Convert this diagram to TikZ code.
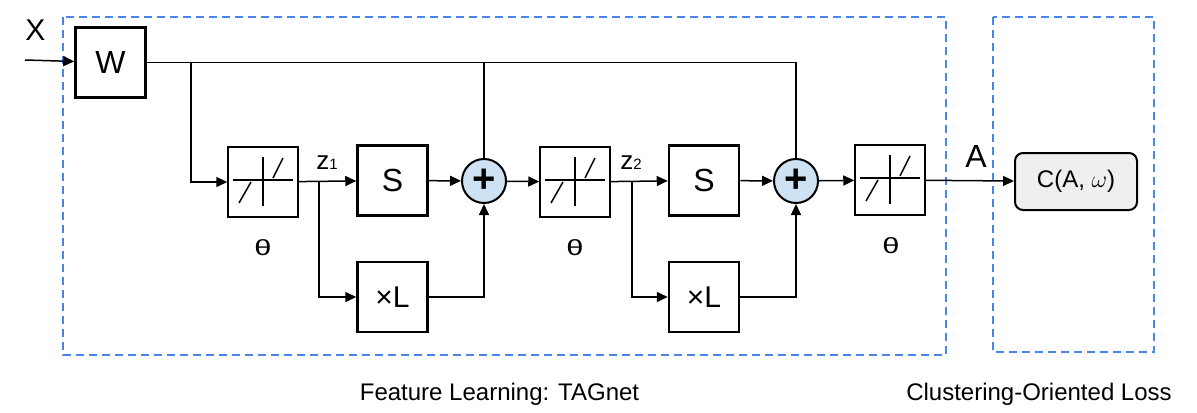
\documentclass[tikz,border=0pt]{standalone}
\usepackage{fontspec}
\setmainfont{Liberation Sans}
\usetikzlibrary{arrows.meta}
\definecolor{frameblue}{HTML}{4A86E8}
\definecolor{sumblue}{HTML}{CFE2F3}
\definecolor{lossgray}{HTML}{EFEFEF}
\newcommand{\fsz}[1]{\fontsize{#1}{#1}\selectfont}
\newcommand{\zsub}[1]{{\fsz{13}z\fsz{7.5}#1}}
\newcommand{\thsym}{\scalebox{1.4}[1]{θ}}
\tikzset{
  blk/.style={draw, line width=1.25pt, minimum size=35pt, inner sep=0pt, font=\fsz{16}},
  act/.style={draw, line width=0.75pt, minimum size=35pt, inner sep=0pt,
    path picture={
      \path (path picture bounding box.center) coordinate (m);
      \draw [line width=0.75pt] ([shift={(-15pt,1pt)}]m) -- ([shift={(15pt,1pt)}]m);
      \draw [line width=0.75pt] ([shift={(0pt,12.5pt)}]m) -- ([shift={(0pt,-12pt)}]m);
      \draw [line width=0.75pt] ([shift={(-12pt,-10.5pt)}]m) -- ([shift={(-6pt,0pt)}]m);
      \draw [line width=0.75pt] ([shift={(5pt,2pt)}]m) -- ([shift={(10pt,12pt)}]m);
    }},
  sum/.style={circle, draw, line width=1pt, fill=sumblue, minimum size=22pt,
    inner sep=0pt, font=\fsz{20}\bfseries},
  loss/.style={draw, line width=1pt, rounded corners=4pt, fill=lossgray,
    minimum width=61pt, minimum height=28.5pt, font=\fsz{12}},
  frame/.style={draw=frameblue, line width=0.9pt, dash pattern=on 4pt off 2.5pt},
  wire/.style={line width=0.75pt},
  >={Triangle[length=5.5pt,width=5pt]}
}

\begin{document}
\begin{tikzpicture}[x=0.5pt, y=-0.5pt]
    \useasboundingbox (0,0) rectangle (1197,412);
    \draw [frame] (63,17) rectangle (946,355);
    \draw [frame] (993,17) rectangle (1154,352);
    \node (w) at (110.5,62.5) [blk] {W};
    \node (t1) at (263,182) [act] {};
    \node (s1) at (392.5,180.5) [blk] {S};
    \node (l1) at (392.5,297) [blk, font=\fsz{15}] {\texttimes L};
    \node (p1) at (484,181) [sum] {+};
    \node (t2) at (575,182) [act] {};
    \node (s2) at (704,180.5) [blk] {S};
    \node (l2) at (704,297) [blk, font=\fsz{15}] {\texttimes L};
    \node (p2) at (796,181) [sum] {+};
    \node (t3) at (890,180) [act] {};
    \node (c) at (1076,181.5) [loss] {C(A, $\omega$)};
    \node (xlab) at (35.5,40) [anchor=base, inner sep=0pt, font=\fsz{15}] {X};
    \node (alab) at (976,167) [anchor=base, inner sep=0pt, font=\fsz{16}] {A};
    \node (z1) at (327,169) [anchor=base, inner sep=0pt] {\zsub{1}};
    \node (z2) at (631,169) [anchor=base, inner sep=0pt] {\zsub{2}};
    \node (th1) at (263,248) [inner sep=0pt, font=\fsz{11}] {\thsym};
    \node (th2) at (575,248) [inner sep=0pt, font=\fsz{11}] {\thsym};
    \node (th3) at (891,246) [inner sep=0pt, font=\fsz{11}] {\thsym};
    \node (cap1) at (499.5,400.5) [anchor=base, inner sep=0pt, font=\fsz{12}]
      {Feature Learning: TAGnet};
    \node (cap2) at (1039,400.5) [anchor=base, inner sep=0pt, font=\fsz{12}]
      {Clustering-Oriented Loss};
    \coordinate (xin) at (25,60);
    \coordinate (b0) at (191,62.5);
    \coordinate (b1) at (319,182);
    \coordinate (b2) at (632,182);
    \draw [wire, ->] (xin) -- (w);
    \draw [wire] (w) -- (p2 |- w) -- (p2);
    \draw [wire] (p1 |- w) -- (p1);
    \draw [wire, ->] (b0) |- (t1);
    \draw [wire, ->] (t1) -- (s1);
    \draw [wire, ->] (b1) |- (l1);
    \draw [wire, ->] (s1) -- (p1);
    \draw [wire, ->] (l1) -| (p1);
    \draw [wire, ->] (p1) -- (t2);
    \draw [wire, ->] (t2) -- (s2);
    \draw [wire, ->] (b2) |- (l2);
    \draw [wire, ->] (s2) -- (p2);
    \draw [wire, ->] (l2) -| (p2);
    \draw [wire, ->] (p2) -- (t3);
    \draw [wire, ->] (t3) -- (c);
\end{tikzpicture}
\end{document}
